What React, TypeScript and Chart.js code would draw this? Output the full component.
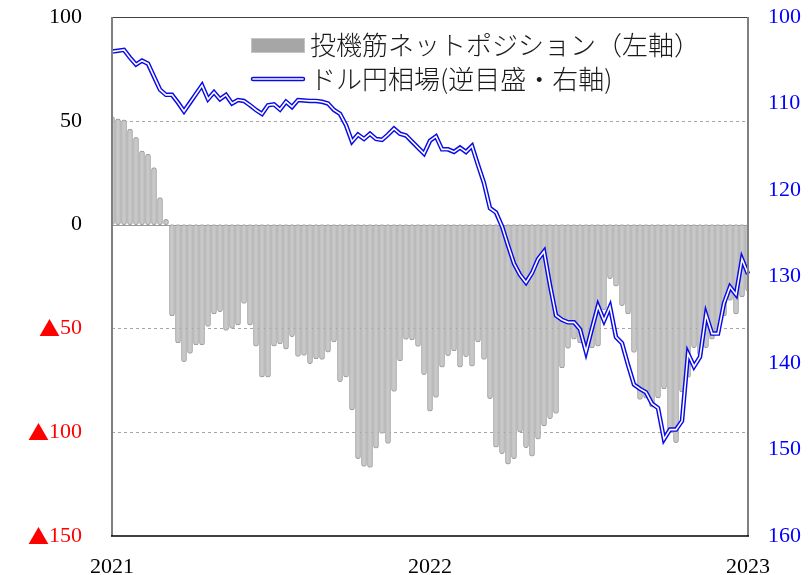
import { useEffect, useRef } from 'react';
import { Chart, registerables } from 'chart.js';

Chart.register(...registerables);

// ---- data ----
const yearLabels = ['2021', '2022', '2023'];

// 投機筋ネットポジション (weekly, left axis)
const netPositions = [
  52, 51, 50.5, 46, 42, 35.5, 34, 27.5, 13, 2.5,
  -44, -57, -66, -62, -58, -58, -49, -43, -42, -51,
  -50, -48.5, -38, -48.5, -58.5, -73.5, -73.5, -58.5, -57.5, -60,
  -54, -63.5, -63, -67, -64.7, -65, -61.4, -56.5, -75.7, -73.5,
  -89.3, -112.7, -116.5, -117, -107.7, -100.6, -105.4, -80.3, -65.7, -55.3,
  -55.6, -58.7, -72.3, -89.9, -83.2, -68.7, -63.1, -60.8, -68.7, -63.6,
  -68.2, -56.5, -64.9, -83.8, -107.2, -110.4, -115.4, -112.8, -100, -107.5,
  -111.6, -103.3, -97, -93.5, -91, -69, -59.7, -55.2, -57, -61,
  -59.4, -58.6, -41, -26, -29.6, -39, -43, -61.6, -84.2, -83.6,
  -88, -83.5, -79.2, -100, -105, -80.6, -73.6, -59.3, -63, -59.3,
  -55.2, -52, -44, -36.5, -43, -34.8, -32,
];

// ドル円相場 (weekly, right axis, reversed)
const usdJpy = [
  104.0, 103.9, 103.8, 104.7, 105.5, 105.05, 105.4, 106.9, 108.4, 109.0,
  109.0, 109.9, 110.9, 109.9, 108.9, 107.9, 109.5, 108.7, 109.5, 109.0,
  110.0, 109.6, 109.7, 110.2, 110.75, 111.2, 110.2, 110.1, 110.7, 109.8,
  110.4, 109.6, 109.65, 109.7, 109.7, 109.8, 110.0, 110.75, 111.2, 112.5,
  114.4, 113.6, 114.1, 113.5, 114.1, 114.2, 113.6, 112.9, 113.5, 113.7,
  114.4, 115.1, 115.8, 114.3, 113.8, 115.3, 115.3, 115.6, 115.1, 115.6,
  114.9, 117.1, 119.2, 122.1, 122.6, 124.2, 126.4, 128.5, 129.8, 130.7,
  129.6, 128.0, 127.1, 131.0, 134.5, 135.0, 135.3, 135.3, 136.1, 138.7,
  136.0, 133.4, 135.1, 133.5, 137.0, 137.7, 140.2, 142.5, 143.0, 143.4,
  144.7, 145.2, 148.8, 147.7, 147.7, 146.7, 138.9, 140.4, 139.3, 134.4,
  136.6, 136.6, 133.1, 131.2, 132.1, 128.0, 129.7,
];

const leftTicks = { min: -150, max: 100, step: 50 };
const rightTicks = { min: 100, max: 160, step: 10 };
const legendLabels = ['投機筋ネットポジション（左軸）', 'ドル円相場(逆目盛・右軸)'];
const negMark = '▲';

const N = netPositions.length;
const mid = Math.round((N - 1) / 2);
const categories = Array.from({ length: N }, (_, i) =>
  i === 0 ? yearLabels[0] : i === mid ? yearLabels[1] : i === N - 1 ? yearLabels[2] : ''
);

const serif = '"Liberation Serif", "DejaVu Serif", serif';
const tickFont = { family: serif, size: 22 };

const framePlugin = {
  id: 'frame',
  beforeDatasetsDraw(chart: any) {
    const { ctx, chartArea } = chart;
    const y = chart.scales.y;
    ctx.save();
    for (let v = leftTicks.min + leftTicks.step; v < leftTicks.max; v += leftTicks.step) {
      const py = Math.round(y.getPixelForValue(v)) + 0.5;
      ctx.beginPath();
      ctx.lineWidth = 1;
      if (v === 0) {
        ctx.setLineDash([]);
        ctx.strokeStyle = '#999999';
      } else {
        ctx.setLineDash([3, 3]);
        ctx.strokeStyle = '#a6a6a6';
      }
      ctx.moveTo(chartArea.left, py);
      ctx.lineTo(chartArea.right, py);
      ctx.stroke();
    }
    ctx.restore();
  },
  afterDraw(chart: any) {
    const { ctx, chartArea } = chart;
    const { left, right, top, bottom } = chartArea;
    ctx.save();
    ctx.setLineDash([]);
    // top
    ctx.strokeStyle = '#404040';
    ctx.lineWidth = 1;
    ctx.beginPath();
    ctx.moveTo(left, top + 0.5);
    ctx.lineTo(right, top + 0.5);
    ctx.stroke();
    // left / right
    ctx.strokeStyle = '#808080';
    ctx.lineWidth = 2;
    ctx.beginPath();
    ctx.moveTo(left, top);
    ctx.lineTo(left, bottom);
    ctx.moveTo(right, top);
    ctx.lineTo(right, bottom);
    ctx.stroke();
    // bottom
    ctx.strokeStyle = '#000000';
    ctx.lineWidth = 1.5;
    ctx.beginPath();
    ctx.moveTo(left - 1, bottom);
    ctx.lineTo(right + 1, bottom);
    ctx.stroke();

    // left tick labels (▲ for negatives, in red)
    const ys = chart.scales.y;
    ctx.textBaseline = 'middle';
    ctx.textAlign = 'right';
    const labelRight = left - 30;
    ys.ticks.forEach((t: any) => {
      const v = t.value;
      const py = ys.getPixelForValue(v);
      const num = String(Math.abs(v));
      ctx.font = `22px ${serif}`;
      if (v < 0) {
        ctx.fillStyle = '#ff0000';
        ctx.fillText(num, labelRight, py);
        const w = ctx.measureText(num).width;
        ctx.font = '21px "Noto Sans CJK JP"';
        ctx.fillText(negMark, labelRight - w, py);
      } else {
        ctx.fillStyle = '#000000';
        ctx.fillText(num, labelRight, py);
      }
    });

    // legend
    const lx = 251;
    const sw = 54;
    const rows = [45, 79];
    ctx.fillStyle = '#a6a6a6';
    ctx.strokeStyle = '#c4c4c4';
    ctx.lineWidth = 1;
    ctx.fillRect(lx, rows[0] - 7, sw, 15);
    ctx.strokeRect(lx + 0.5, rows[0] - 6.5, sw - 1, 14);

    ctx.lineCap = 'round';
    ctx.strokeStyle = '#0a0ae6';
    ctx.lineWidth = 4.5;
    ctx.beginPath();
    ctx.moveTo(lx + 2, rows[1]);
    ctx.lineTo(lx + sw - 2, rows[1]);
    ctx.stroke();
    ctx.strokeStyle = '#ffffff';
    ctx.lineWidth = 1.6;
    ctx.beginPath();
    ctx.moveTo(lx + 2, rows[1]);
    ctx.lineTo(lx + sw - 2, rows[1]);
    ctx.stroke();

    ctx.fillStyle = '#1a1a1a';
    ctx.font = '300 26px "Noto Sans CJK JP"';
    ctx.textBaseline = 'middle';
    ctx.textAlign = 'left';
    ctx.fillText(legendLabels[0], lx + sw + 5, rows[0]);
    ctx.fillText(legendLabels[1], lx + sw + 5, rows[1]);
    ctx.restore();
  },
};

const zeroPad = (s: any) => {
  s.paddingTop = 0;
  s.paddingBottom = 0;
  s.paddingLeft = 0;
  s.paddingRight = 0;
};

export default function App() {
  const ref = useRef<HTMLCanvasElement | null>(null);

  useEffect(() => {
    if (!ref.current) return;
    const chart = new Chart(ref.current, {
      type: 'bar',
      data: {
        labels: categories,
        datasets: [
          {
            type: 'line',
            label: legendLabels[1] + '_inner',
            data: usdJpy,
            yAxisID: 'y2',
            borderColor: '#ffffff',
            borderWidth: 1.6,
            pointRadius: 0,
            tension: 0,
            order: 0,
          } as any,
          {
            type: 'line',
            label: legendLabels[1],
            data: usdJpy,
            yAxisID: 'y2',
            borderColor: '#0a0ae6',
            borderWidth: 4.5,
            pointRadius: 0,
            tension: 0,
            order: 1,
          } as any,
          {
            type: 'bar',
            label: legendLabels[0],
            data: netPositions,
            yAxisID: 'y',
            backgroundColor: '#c8c8c8',
            borderColor: '#9c9c9c',
            borderWidth: 1,
            borderRadius: 3,
            borderSkipped: false,
            barThickness: 5,
            order: 2,
          } as any,
        ],
      },
      options: {
        animation: false,
        responsive: false,
        devicePixelRatio: 1,
        layout: { padding: { top: 17, left: 0, right: 0, bottom: 0 } },
        plugins: {
          legend: { display: false },
          tooltip: { enabled: false },
        },
        scales: {
          x: {
            type: 'category',
            offset: false,
            grid: { display: false, drawTicks: false },
            border: { display: false },
            ticks: {
              autoSkip: false,
              maxRotation: 0,
              minRotation: 0,
              padding: 18,
              color: '#000000',
              font: tickFont,
            },
            afterFit: (s: any) => {
              s.height = 39;
              zeroPad(s);
            },
          },
          y: {
            position: 'left',
            min: leftTicks.min,
            max: leftTicks.max,
            grid: { display: false, drawTicks: false },
            border: { display: false },
            ticks: {
              display: false,
              stepSize: leftTicks.step,
            },
            afterFit: (s: any) => {
              s.width = 112;
              zeroPad(s);
            },
          },
          y2: {
            position: 'right',
            reverse: true,
            min: rightTicks.min,
            max: rightTicks.max,
            grid: { display: false, drawTicks: false },
            border: { display: false },
            ticks: {
              stepSize: rightTicks.step,
              padding: 20,
              font: tickFont,
              color: '#0000ff',
            },
            afterFit: (s: any) => {
              s.width = 63;
              zeroPad(s);
            },
          },
        },
      } as any,
      plugins: [framePlugin],
    });
    return () => chart.destroy();
  }, []);

  return (
    <div style={{ position: 'absolute', left: 0, top: 0, width: 811, height: 575, background: '#ffffff' }}>
      <canvas ref={ref} width={811} height={575} style={{ display: 'block', width: 811, height: 575 }} />
    </div>
  );
}
